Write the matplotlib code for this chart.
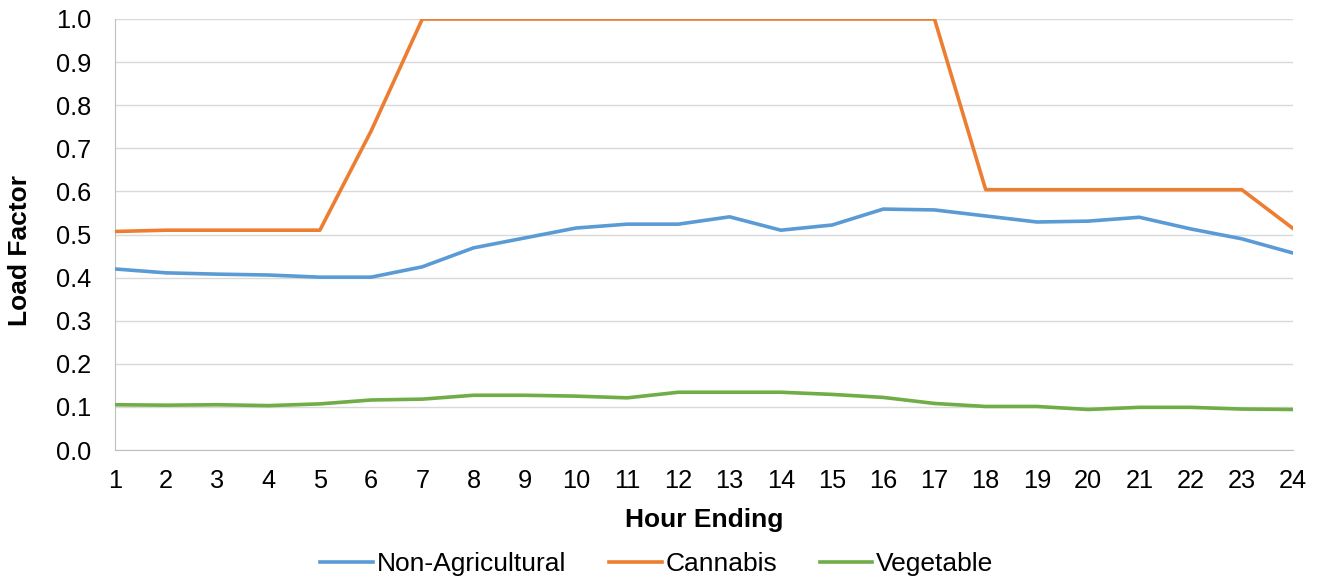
import matplotlib
matplotlib.use("Agg")
from matplotlib import pyplot as plt

hours = list(range(1, 25))
non_agricultural = [0.420, 0.411, 0.408, 0.406, 0.401, 0.401, 0.425, 0.469, 0.492, 0.515,
                    0.524, 0.524, 0.541, 0.510, 0.522, 0.559, 0.557, 0.543, 0.529, 0.531,
                    0.540, 0.513, 0.490, 0.457]
cannabis = [0.507, 0.510, 0.510, 0.510, 0.510, 0.740, 1.0, 1.0, 1.0, 1.0,
            1.0, 1.0, 1.0, 1.0, 1.0, 1.0, 1.0, 0.604, 0.604, 0.604,
            0.604, 0.604, 0.604, 0.514]
vegetable = [0.105, 0.104, 0.105, 0.103, 0.107, 0.116, 0.118, 0.127, 0.127, 0.125,
             0.121, 0.134, 0.134, 0.134, 0.129, 0.122, 0.108, 0.101, 0.101, 0.094,
             0.099, 0.099, 0.095, 0.094]
y_ticks = [0.0, 0.1, 0.2, 0.3, 0.4, 0.5, 0.6, 0.7, 0.8, 0.9, 1.0]

plt.rcParams['font.family'] = ['Liberation Sans', 'DejaVu Sans']
fs_tick = 18.3
fs = 19

fig = plt.figure(figsize=(13.26, 5.82), dpi=100)
ax = fig.add_axes([115 / 1326, 1 - 450 / 582, (1293 - 115) / 1326, (450 - 19) / 582])

ax.plot(hours, non_agricultural, color='#5B9BD5', lw=2.6, label='Non-Agricultural', zorder=3)
ax.plot(hours, cannabis, color='#ED7D31', lw=2.6, label='Cannabis', zorder=3)
ax.plot(hours, vegetable, color='#70AD47', lw=2.6, label='Vegetable', zorder=3)

ax.set_xlim(1, 24)
ax.set_ylim(0, 1.0)
ax.set_xticks(hours)
ax.set_yticks(y_ticks)
ax.set_yticklabels([f"{v:.1f}" for v in y_ticks])
ax.tick_params(length=0, labelsize=fs_tick, colors='#000000')
ax.tick_params(axis='y', pad=17)
ax.tick_params(axis='x', pad=14)
ax.grid(axis='y', color='#D9D9D9', lw=1)
for side in ['top', 'right']:
    ax.spines[side].set_visible(False)
ax.spines['left'].set_color('#BFBFBF')
ax.spines['bottom'].set_color('#BFBFBF')
ax.set_axisbelow(True)

ax.set_xlabel('Hour Ending', fontsize=fs, fontweight='bold')
ax.xaxis.set_label_coords(0.5, (450 - 508) / 431)
ax.set_ylabel('Load Factor', fontsize=fs, fontweight='bold', va='center')
ax.yaxis.set_label_coords((20 - 115) / 1178, 1 - (251 - 19) / 431)

fig.legend(*ax.get_legend_handles_labels(), loc='center', bbox_to_anchor=(657 / 1326, 1 - 564 / 582),
           ncol=3, frameon=False, fontsize=fs, handlelength=2.0, columnspacing=1.6,
           handletextpad=0.15, borderpad=0, borderaxespad=0)

fig.savefig('out.png', dpi=100)
